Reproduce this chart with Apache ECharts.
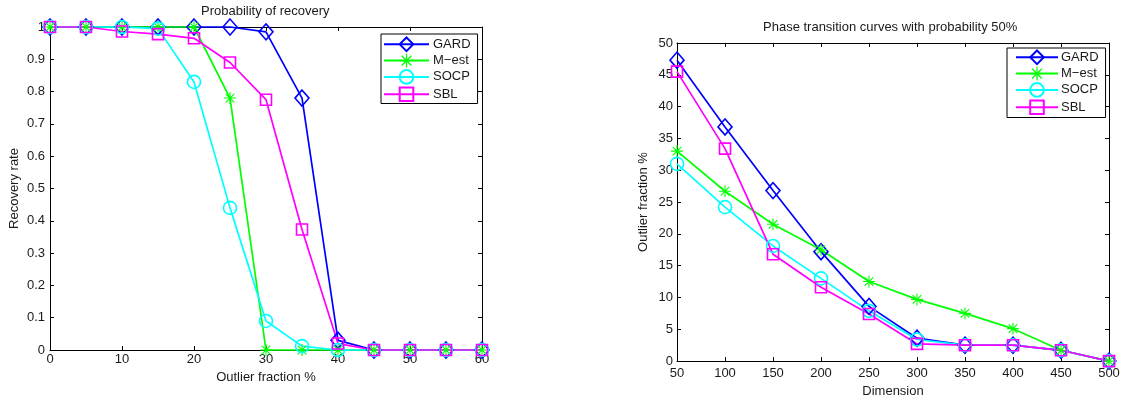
<!DOCTYPE html>
<html>
<head>
<meta charset="utf-8">
<script src="https://cdn.jsdelivr.net/npm/echarts@6/dist/echarts.min.js"></script>
<style>
html,body{margin:0;padding:0;background:#fff;}
#c{width:1125px;height:403px;}
</style>
</head>
<body>
<div id="c"></div>
<script>
// ---- Data ----
const seriesNames = ['GARD', 'M\u2212est', 'SOCP', 'SBL'];
const leftX = [0, 5, 10, 15, 20, 25, 30, 35, 40, 45, 50, 55, 60];
const leftGARD = [1, 1, 1, 1, 1, 1, 0.985, 0.78, 0.03, 0, 0, 0, 0];
const leftMest = [1, 1, 1, 1, 1, 0.78, 0, 0, 0, 0, 0, 0, 0];
const leftSOCP = [1, 1, 1, 0.995, 0.83, 0.44, 0.09, 0.012, 0, 0, 0, 0, 0];
const leftSBL = [1, 1, 0.986, 0.978, 0.965, 0.89, 0.775, 0.373, 0.02, 0, 0, 0, 0];

const rightX = [50, 100, 150, 200, 250, 300, 350, 400, 450, 500];
const rightGARD = [47.3, 36.8, 26.8, 17.2, 8.6, 3.6, 2.5, 2.5, 1.7, 0];
const rightMest = [33.0, 26.7, 21.5, 17.5, 12.5, 9.7, 7.5, 5.1, 1.7, 0];
const rightSOCP = [31.0, 24.2, 18.1, 13.0, 7.9, 3.4, 2.5, 2.5, 1.7, 0];
const rightSBL = [45.5, 33.4, 16.8, 11.6, 7.4, 2.7, 2.5, 2.5, 1.7, 0];

const leftTitle = 'Probability of recovery';
const rightTitle = 'Phase transition curves with probability 50%';
const leftXName = 'Outlier fraction %';
const leftYName = 'Recovery rate';
const rightXName = 'Dimension';
const rightYName = 'Outlier fraction %';

// ---- Styles ----
const FONT = "'Liberation Sans', Arial, Helvetica, sans-serif";
const TXT = '#1a1a1a';
const colors = ['#0000ff', '#00ff00', '#00ffff', '#ff00ff'];
const asterisk = 'path://M9.1,0H10.9V20H9.1Z M0,9.1H20V10.9H0Z M2.2,3.5L3.5,2.2L17.8,16.5L16.5,17.8Z M16.5,2.2L17.8,3.5L3.5,17.8L2.2,16.5Z';
const symbols = ['diamond', asterisk, 'circle', 'rect'];
const sizes = [[14, 16], 12, 13, 11];

function pairs(xs, ys) { return xs.map((x, i) => [x, ys[i]]); }

function mkSeries(idx, gi, xs, ys) {
  const c = colors[idx];
  const filled = idx === 1;
  return {
    name: seriesNames[idx],
    type: 'line',
    xAxisIndex: gi * 2,
    yAxisIndex: gi * 2,
    data: pairs(xs, ys),
    symbol: symbols[idx],
    symbolSize: sizes[idx],
    showAllSymbol: true,
    clip: false,
    animation: false,
    lineStyle: { color: c, width: 1.7 },
    itemStyle: filled ? { color: c, borderWidth: 0 } : { color: 'rgba(0,0,0,0)', borderColor: c, borderWidth: 1.6 },
    emphasis: { disabled: true }
  };
}

function axisPair(gi, type, min, max, interval, name, nameGap, labelMargin) {
  const base = {
    type: 'value', gridIndex: gi, min: min, max: max, interval: interval,
    splitLine: { show: false },
    axisLine: { show: true, onZero: false, lineStyle: { color: '#000', width: 1 } },
    axisTick: { show: true, inside: true, length: 4, lineStyle: { color: '#000' } },
  };
  const main = Object.assign({}, base, {
    position: type === 'x' ? 'bottom' : 'left',
    name: name, nameLocation: 'middle', nameGap: nameGap,
    nameTextStyle: { color: TXT, fontSize: 13, fontFamily: FONT },
    axisLabel: { color: TXT, fontSize: 13, fontFamily: FONT, margin: labelMargin, showMinLabel: true, showMaxLabel: true }
  });
  const mirror = Object.assign({}, base, {
    position: type === 'x' ? 'top' : 'right',
    axisLabel: { show: false }
  });
  return [main, mirror];
}

const chart = echarts.init(document.getElementById('c'), null, { renderer: 'canvas' });

const legendCommon = {
  orient: 'vertical',
  backgroundColor: '#fff',
  borderColor: '#000',
  borderWidth: 1,
  itemHeight: 17,
  itemGap: 1.7,
  selectedMode: false,
  data: seriesNames
};

const option = {
  animation: false,
  backgroundColor: '#fff',
  title: [
    { text: leftTitle, left: 201, top: 5, padding: 0, textStyle: { color: TXT, fontSize: 13, fontWeight: 'normal', fontFamily: FONT } },
    { text: rightTitle, left: 763, top: 21, padding: 0, textStyle: { color: TXT, fontSize: 13, fontWeight: 'normal', fontFamily: FONT } }
  ],
  grid: [
    { left: 50, top: 27, width: 432, height: 323, show: false },
    { left: 677, top: 43, width: 432, height: 321, show: false }
  ],
  xAxis: [
    ...axisPair(0, 'x', 0, 60, 10, leftXName, 21, 3),
    ...axisPair(1, 'x', 50, 500, 50, rightXName, 22, 6)
  ],
  yAxis: [
    ...axisPair(0, 'y', 0, 1, 0.1, leftYName, 29, 5),
    ...axisPair(1, 'y', 0, 50, 5, rightYName, 27, 4)
  ],
  legend: [
    Object.assign({}, legendCommon, {
      left: 381, top: 34, padding: [2.5, 7, 1.5, 2], itemWidth: 45,
      textStyle: { color: TXT, fontSize: 13, fontFamily: FONT, padding: [0, 0, 0, -1] }
    }),
    Object.assign({}, legendCommon, {
      left: 1007, top: 48, padding: [1.5, 7, 2.5, 8], itemWidth: 42,
      textStyle: { color: TXT, fontSize: 13, fontFamily: FONT, padding: [0, 0, 0, -2] }
    })
  ],
  series: [
    mkSeries(0, 0, leftX, leftGARD),
    mkSeries(1, 0, leftX, leftMest),
    mkSeries(2, 0, leftX, leftSOCP),
    mkSeries(3, 0, leftX, leftSBL),
    mkSeries(0, 1, rightX, rightGARD),
    mkSeries(1, 1, rightX, rightMest),
    mkSeries(2, 1, rightX, rightSOCP),
    mkSeries(3, 1, rightX, rightSBL)
  ]
};
chart.setOption(option);
</script>
</body>
</html>
